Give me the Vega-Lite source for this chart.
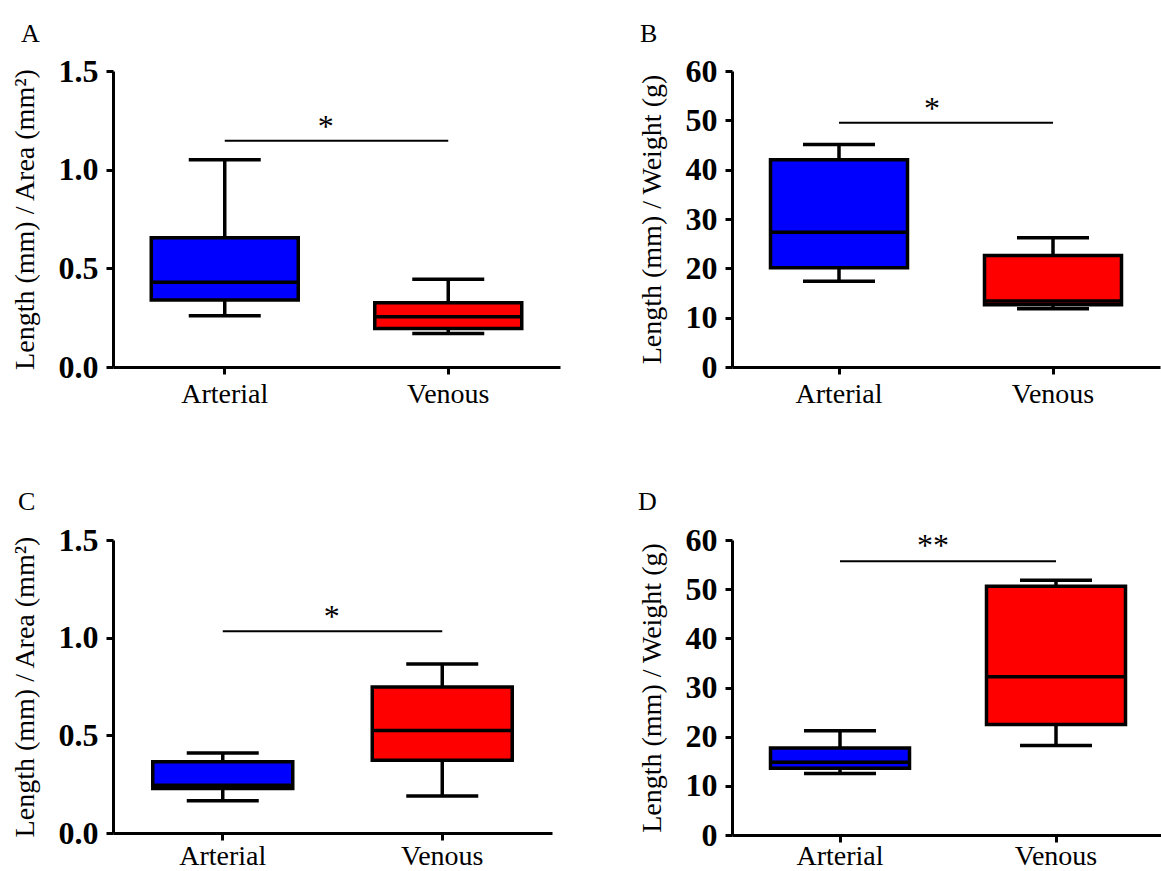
{
  "$schema": "https://vega.github.io/schema/vega-lite/v6.json",
  "padding": {"left": 10, "top": 21, "right": 0, "bottom": 0},
  "background": "white",
  "config": {
    "font": "Liberation Serif",
    "view": {"stroke": null},
    "tick": {"opacity": 1},
    "axis": {
      "grid": false,
      "domainColor": "black",
      "domainWidth": 3,
      "tickColor": "black",
      "tickWidth": 3,
      "tickSize": 7,
      "labelColor": "black",
      "titleColor": "black",
      "labelFont": "Liberation Serif",
      "titleFont": "Liberation Serif",
      "titleFontWeight": "normal"
    },
    "axisX": {"labelFontSize": 28, "labelPadding": 6, "labelAngle": 0, "labelFontWeight": "normal"},
    "axisY": {"labelFontSize": 32, "labelFontWeight": "bold", "labelPadding": 8, "titleFontSize": 28, "titleFontWeight": "normal", "titlePadding": 19},
    "title": {"anchor": "start", "frame": "group", "fontSize": 26, "fontWeight": "normal", "font": "Liberation Serif", "color": "black", "offset": 8}
  },
  "datasets": {
    "boxes": [
      {"panel": "A", "group": "Arterial", "lo": 0.26, "q1": 0.34, "med": 0.43, "q3": 0.655, "hi": 1.05},
      {"panel": "A", "group": "Venous", "lo": 0.17, "q1": 0.195, "med": 0.255, "q3": 0.325, "hi": 0.445},
      {"panel": "B", "group": "Arterial", "lo": 17.4, "q1": 20.1, "med": 27.3, "q3": 42.0, "hi": 45.1},
      {"panel": "B", "group": "Venous", "lo": 11.8, "q1": 12.6, "med": 13.4, "q3": 22.6, "hi": 26.2},
      {"panel": "C", "group": "Arterial", "lo": 0.165, "q1": 0.228, "med": 0.245, "q3": 0.365, "hi": 0.41},
      {"panel": "C", "group": "Venous", "lo": 0.19, "q1": 0.373, "med": 0.525, "q3": 0.748, "hi": 0.865},
      {"panel": "D", "group": "Arterial", "lo": 12.5, "q1": 13.6, "med": 14.8, "q3": 17.7, "hi": 21.2},
      {"panel": "D", "group": "Venous", "lo": 18.2, "q1": 22.5, "med": 32.2, "q3": 50.6, "hi": 51.8}
    ],
    "sig": [
      {"panel": "A", "from": "Arterial", "to": "Venous", "y": 1.146, "label": "*"},
      {"panel": "B", "from": "Arterial", "to": "Venous", "y": 49.5, "label": "*"},
      {"panel": "C", "from": "Arterial", "to": "Venous", "y": 1.033, "label": "*"},
      {"panel": "D", "from": "Arterial", "to": "Venous", "y": 55.7, "label": "**"}
    ]
  },
  "vconcat": [
    {
      "hconcat": [
        {
          "width": 447, "height": 296,
          "title": {"text": "A", "dx": -92},
          "layer": [
            {
              "data": {"name": "boxes"},
              "transform": [{"filter": "datum.panel === 'A'"}],
              "encoding": {"x": {"field": "group", "type": "nominal", "scale": {"domain": ["Arterial", "Venous"], "paddingInner": 0, "paddingOuter": 0}, "axis": {"title": null}}},
              "layer": [
                {"mark": {"type": "rule", "color": "black", "strokeWidth": 3.5}, "encoding": {"y": {"field": "lo", "type": "quantitative", "title": "Length (mm) / Area (mm²)", "scale": {"domain": [0, 1.5], "nice": false}, "axis": {"values": [0, 0.5, 1, 1.5], "format": ".1f"}}, "y2": {"field": "hi"}}},
                {"mark": {"type": "bar", "width": 147, "stroke": "black", "strokeWidth": 3.5}, "encoding": {"y": {"field": "q1", "type": "quantitative", "title": "Length (mm) / Area (mm²)"}, "y2": {"field": "q3"}, "color": {"field": "group", "type": "nominal", "scale": {"domain": ["Arterial", "Venous"], "range": ["#0000ff", "#ff0000"]}, "legend": null}}},
                {"mark": {"type": "tick", "color": "black", "size": 147, "thickness": 3.5, "opacity": 1}, "encoding": {"y": {"field": "med", "type": "quantitative", "title": "Length (mm) / Area (mm²)"}}},
                {"mark": {"type": "tick", "color": "black", "size": 72, "thickness": 3.5, "opacity": 1}, "encoding": {"y": {"field": "lo", "type": "quantitative", "title": "Length (mm) / Area (mm²)"}}},
                {"mark": {"type": "tick", "color": "black", "size": 72, "thickness": 3.5, "opacity": 1}, "encoding": {"y": {"field": "hi", "type": "quantitative", "title": "Length (mm) / Area (mm²)"}}}
              ]
            },
            {
              "data": {"name": "sig"},
              "transform": [{"filter": "datum.panel === 'A'"}],
              "encoding": {"x": {"field": "from", "type": "nominal", "scale": {"domain": ["Arterial", "Venous"], "paddingInner": 0, "paddingOuter": 0}, "axis": {"title": null}}, "y": {"field": "y", "type": "quantitative", "title": "Length (mm) / Area (mm²)"}},
              "layer": [
                {"mark": {"type": "rule", "color": "black", "strokeWidth": 2}, "encoding": {"x2": {"field": "to"}}},
                {"mark": {"type": "text", "fontSize": 32, "dx": 101, "dy": -4, "baseline": "alphabetic", "color": "black"}, "encoding": {"text": {"field": "label"}}}
              ]
            }
          ]
        },
        {
          "width": 428, "height": 296,
          "title": {"text": "B", "dx": -92},
          "layer": [
            {
              "data": {"name": "boxes"},
              "transform": [{"filter": "datum.panel === 'B'"}],
              "encoding": {"x": {"field": "group", "type": "nominal", "scale": {"domain": ["Arterial", "Venous"], "paddingInner": 0, "paddingOuter": 0}, "axis": {"title": null}}},
              "layer": [
                {"mark": {"type": "rule", "color": "black", "strokeWidth": 3.5}, "encoding": {"y": {"field": "lo", "type": "quantitative", "title": "Length (mm) / Weight (g)", "scale": {"domain": [0, 60], "nice": false}, "axis": {"values": [0, 10, 20, 30, 40, 50, 60], "format": "d"}}, "y2": {"field": "hi"}}},
                {"mark": {"type": "bar", "width": 137, "stroke": "black", "strokeWidth": 3.5}, "encoding": {"y": {"field": "q1", "type": "quantitative", "title": "Length (mm) / Weight (g)"}, "y2": {"field": "q3"}, "color": {"field": "group", "type": "nominal", "scale": {"domain": ["Arterial", "Venous"], "range": ["#0000ff", "#ff0000"]}, "legend": null}}},
                {"mark": {"type": "tick", "color": "black", "size": 137, "thickness": 3.5, "opacity": 1}, "encoding": {"y": {"field": "med", "type": "quantitative", "title": "Length (mm) / Weight (g)"}}},
                {"mark": {"type": "tick", "color": "black", "size": 72, "thickness": 3.5, "opacity": 1}, "encoding": {"y": {"field": "lo", "type": "quantitative", "title": "Length (mm) / Weight (g)"}}},
                {"mark": {"type": "tick", "color": "black", "size": 72, "thickness": 3.5, "opacity": 1}, "encoding": {"y": {"field": "hi", "type": "quantitative", "title": "Length (mm) / Weight (g)"}}}
              ]
            },
            {
              "data": {"name": "sig"},
              "transform": [{"filter": "datum.panel === 'B'"}],
              "encoding": {"x": {"field": "from", "type": "nominal", "scale": {"domain": ["Arterial", "Venous"], "paddingInner": 0, "paddingOuter": 0}, "axis": {"title": null}}, "y": {"field": "y", "type": "quantitative", "title": "Length (mm) / Weight (g)"}},
              "layer": [
                {"mark": {"type": "rule", "color": "black", "strokeWidth": 2}, "encoding": {"x2": {"field": "to"}}},
                {"mark": {"type": "text", "fontSize": 32, "dx": 93, "dy": -4, "baseline": "alphabetic", "color": "black"}, "encoding": {"text": {"field": "label"}}}
              ]
            }
          ]
        }
      ],
      "spacing": 77
    },
    {
      "hconcat": [
        {
          "width": 439, "height": 293,
          "title": {"text": "C", "dx": -95, "offset": 9},
          "layer": [
            {
              "data": {"name": "boxes"},
              "transform": [{"filter": "datum.panel === 'C'"}],
              "encoding": {"x": {"field": "group", "type": "nominal", "scale": {"domain": ["Arterial", "Venous"], "paddingInner": 0, "paddingOuter": 0}, "axis": {"title": null, "labelPadding": 2}}},
              "layer": [
                {"mark": {"type": "rule", "color": "black", "strokeWidth": 3.5}, "encoding": {"y": {"field": "lo", "type": "quantitative", "title": "Length (mm) / Area (mm²)", "scale": {"domain": [0, 1.5], "nice": false}, "axis": {"values": [0, 0.5, 1, 1.5], "format": ".1f"}}, "y2": {"field": "hi"}}},
                {"mark": {"type": "bar", "width": 140, "stroke": "black", "strokeWidth": 3.5}, "encoding": {"y": {"field": "q1", "type": "quantitative", "title": "Length (mm) / Area (mm²)"}, "y2": {"field": "q3"}, "color": {"field": "group", "type": "nominal", "scale": {"domain": ["Arterial", "Venous"], "range": ["#0000ff", "#ff0000"]}, "legend": null}}},
                {"mark": {"type": "tick", "color": "black", "size": 140, "thickness": 3.5, "opacity": 1}, "encoding": {"y": {"field": "med", "type": "quantitative", "title": "Length (mm) / Area (mm²)"}}},
                {"mark": {"type": "tick", "color": "black", "size": 72, "thickness": 3.5, "opacity": 1}, "encoding": {"y": {"field": "lo", "type": "quantitative", "title": "Length (mm) / Area (mm²)"}}},
                {"mark": {"type": "tick", "color": "black", "size": 72, "thickness": 3.5, "opacity": 1}, "encoding": {"y": {"field": "hi", "type": "quantitative", "title": "Length (mm) / Area (mm²)"}}}
              ]
            },
            {
              "data": {"name": "sig"},
              "transform": [{"filter": "datum.panel === 'C'"}],
              "encoding": {"x": {"field": "from", "type": "nominal", "scale": {"domain": ["Arterial", "Venous"], "paddingInner": 0, "paddingOuter": 0}, "axis": {"title": null, "labelPadding": 2}}, "y": {"field": "y", "type": "quantitative", "title": "Length (mm) / Area (mm²)"}},
              "layer": [
                {"mark": {"type": "rule", "color": "black", "strokeWidth": 2}, "encoding": {"x2": {"field": "to"}}},
                {"mark": {"type": "text", "fontSize": 32, "dx": 109, "dy": -4, "baseline": "alphabetic", "color": "black"}, "encoding": {"text": {"field": "label"}}}
              ]
            }
          ]
        },
        {
          "width": 432, "height": 295,
          "title": {"text": "D", "dx": -94, "offset": 9},
          "layer": [
            {
              "data": {"name": "boxes"},
              "transform": [{"filter": "datum.panel === 'D'"}],
              "encoding": {"x": {"field": "group", "type": "nominal", "scale": {"domain": ["Arterial", "Venous"], "paddingInner": 0, "paddingOuter": 0}, "axis": {"title": null, "labelPadding": 0}}},
              "layer": [
                {"mark": {"type": "rule", "color": "black", "strokeWidth": 3.5}, "encoding": {"y": {"field": "lo", "type": "quantitative", "title": "Length (mm) / Weight (g)", "scale": {"domain": [0, 60], "nice": false}, "axis": {"values": [0, 10, 20, 30, 40, 50, 60], "format": "d"}}, "y2": {"field": "hi"}}},
                {"mark": {"type": "bar", "width": 139, "stroke": "black", "strokeWidth": 3.5}, "encoding": {"y": {"field": "q1", "type": "quantitative", "title": "Length (mm) / Weight (g)"}, "y2": {"field": "q3"}, "color": {"field": "group", "type": "nominal", "scale": {"domain": ["Arterial", "Venous"], "range": ["#0000ff", "#ff0000"]}, "legend": null}}},
                {"mark": {"type": "tick", "color": "black", "size": 139, "thickness": 3.5, "opacity": 1}, "encoding": {"y": {"field": "med", "type": "quantitative", "title": "Length (mm) / Weight (g)"}}},
                {"mark": {"type": "tick", "color": "black", "size": 72, "thickness": 3.5, "opacity": 1}, "encoding": {"y": {"field": "lo", "type": "quantitative", "title": "Length (mm) / Weight (g)"}}},
                {"mark": {"type": "tick", "color": "black", "size": 72, "thickness": 3.5, "opacity": 1}, "encoding": {"y": {"field": "hi", "type": "quantitative", "title": "Length (mm) / Weight (g)"}}}
              ]
            },
            {
              "data": {"name": "sig"},
              "transform": [{"filter": "datum.panel === 'D'"}],
              "encoding": {"x": {"field": "from", "type": "nominal", "scale": {"domain": ["Arterial", "Venous"], "paddingInner": 0, "paddingOuter": 0}, "axis": {"title": null, "labelPadding": 0}}, "y": {"field": "y", "type": "quantitative", "title": "Length (mm) / Weight (g)"}},
              "layer": [
                {"mark": {"type": "rule", "color": "black", "strokeWidth": 2}, "encoding": {"x2": {"field": "to"}}},
                {"mark": {"type": "text", "fontSize": 32, "dx": 93, "dy": -5, "baseline": "alphabetic", "color": "black"}, "encoding": {"text": {"field": "label"}}}
              ]
            }
          ]
        }
      ],
      "spacing": 85
    }
  ],
  "spacing": 81
}
